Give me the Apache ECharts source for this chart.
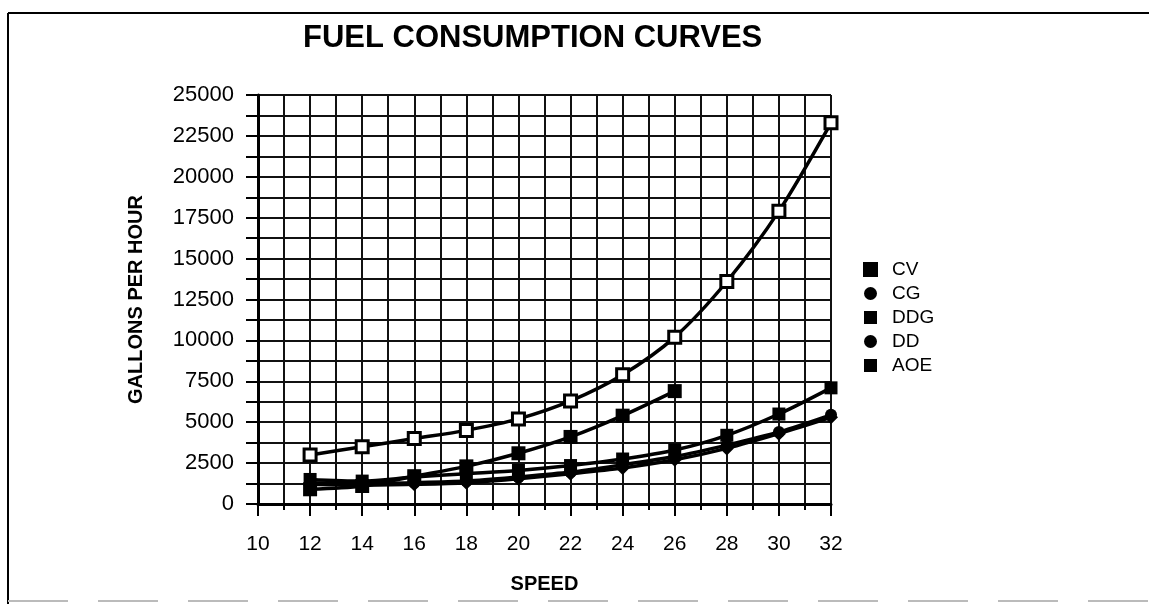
<!DOCTYPE html>
<html>
<head>
<meta charset="utf-8">
<script src="https://cdn.jsdelivr.net/npm/echarts@6/dist/echarts.min.js"></script>
<style>
  html, body { margin: 0; padding: 0; background: #fff; }
  #chart { width: 1149px; height: 604px; }
</style>
</head>
<body>
<div id="chart"></div>
<script>
  // speeds (knots) along the x axis
  var speeds = [12, 14, 16, 18, 20, 22, 24, 26, 28, 30, 32];
  // gallons per hour
  var cv  = [3000, 3500, 4000, 4500, 5200, 6300, 7900, 10200, 13600, 17900, 23300];
  var cg  = [1300, 1250, 1300, 1400, 1650, 1950, 2400, 2900, 3600, 4400, 5450];
  var ddg = [1500, 1400, 1650, 1850, 2050, 2350, 2750, 3300, 4200, 5500, 7100];
  var dd  = [1200, 1150, 1200, 1300, 1550, 1850, 2200, 2700, 3400, 4300, 5300];
  var aoe = [900, 1100, 1700, 2300, 3100, 4100, 5400, 6900];

  function pairs(vals) {
    // aoe stops at 26 knots, so only zip as far as the values go
    return vals.map(function (v, i) { return [speeds[i], v]; });
  }

  var font = '"Liberation Sans", Arial, Helvetica, sans-serif';
  var gridLine = { show: true, lineStyle: { color: '#111', width: 2, type: 'solid' } };

  function line(name, vals, symbol, size, fill) {
    return {
      name: name,
      type: 'line',
      smooth: 0.3,
      data: pairs(vals),
      symbol: symbol,
      symbolSize: size,
      showSymbol: true,
      lineStyle: { color: '#000', width: 3.5 },
      itemStyle: { color: fill, borderColor: '#000', borderWidth: fill === '#fff' ? 3 : 0 },
      z: 3
    };
  }

  var option = {
    animation: false,
    backgroundColor: '#fff',
    textStyle: { fontFamily: font, color: '#000' },
    title: {
      text: 'FUEL CONSUMPTION CURVES',
      left: 298,
      top: 18,
      textStyle: { fontSize: 31, fontWeight: 'bold', color: '#000', fontFamily: font }
    },
    legend: {
      orient: 'vertical',
      left: 858,
      top: 255,
      itemGap: 5,
      itemWidth: 13,
      itemHeight: 13,
      textStyle: { fontSize: 19, color: '#000', fontFamily: font, padding: [0, 0, 0, 10] },
      data: [
        { name: 'CV', icon: 'rect', itemStyle: { color: '#000' } },
        { name: 'CG', icon: 'circle', itemStyle: { color: '#000' } },
        { name: 'DDG', icon: 'rect', itemStyle: { color: '#000' } },
        { name: 'DD', icon: 'circle', itemStyle: { color: '#000' } },
        { name: 'AOE', icon: 'rect', itemStyle: { color: '#000' } }
      ]
    },
    grid: { left: 258, right: 318, top: 95, bottom: 100 },
    xAxis: {
      type: 'value',
      min: 10,
      max: 32,
      interval: 2,
      name: 'SPEED',
      nameLocation: 'middle',
      nameGap: 70,
      nameTextStyle: { fontSize: 20, fontWeight: 'bold', color: '#000', fontFamily: font },
      axisLine: { show: true, lineStyle: { color: '#000', width: 3 } },
      axisTick: { show: true, length: 12, lineStyle: { color: '#000', width: 2 } },
      minorTick: { show: true, splitNumber: 2, length: 6, lineStyle: { color: '#000', width: 2 } },
      axisLabel: { fontSize: 21, color: '#000', margin: 30, fontFamily: font },
      splitLine: gridLine,
      minorSplitLine: gridLine
    },
    yAxis: {
      type: 'value',
      min: 0,
      max: 25000,
      interval: 2500,
      name: 'GALLONS PER HOUR',
      nameLocation: 'middle',
      nameGap: 112,
      nameTextStyle: { fontSize: 20, fontWeight: 'bold', color: '#000', fontFamily: font },
      axisLine: { show: true, lineStyle: { color: '#000', width: 3 } },
      axisTick: { show: true, length: 12, lineStyle: { color: '#000', width: 2 } },
      minorTick: { show: true, splitNumber: 2, length: 12, lineStyle: { color: '#000', width: 2 } },
      axisLabel: { fontSize: 22, color: '#000', margin: 24, fontFamily: font, formatter: function (v) { return String(v); } },
      splitLine: gridLine,
      minorSplitLine: gridLine
    },
    graphic: [
      { type: 'line', shape: { x1: 8, y1: 13, x2: 1149, y2: 13 }, style: { stroke: '#000', lineWidth: 2 } },
      { type: 'line', shape: { x1: 8, y1: 13, x2: 8, y2: 604 }, style: { stroke: '#000', lineWidth: 2 } },
      { type: 'line', shape: { x1: 8, y1: 601, x2: 1149, y2: 601 }, style: { stroke: '#bbb', lineWidth: 2, lineDash: [60, 30] } }
    ],
    series: [
      line('CV', cv, 'rect', 12, '#fff'),
      line('CG', cg, 'circle', 12, '#000'),
      line('DDG', ddg, 'rect', 13, '#000'),
      line('DD', dd, 'diamond', 14, '#000'),
      line('AOE', aoe, 'rect', 14, '#000')
    ]
  };

  var myChart = echarts.init(document.getElementById('chart'));
  myChart.setOption(option);
  window.addEventListener('resize', function () { myChart.resize(); });
</script>
</body>
</html>
